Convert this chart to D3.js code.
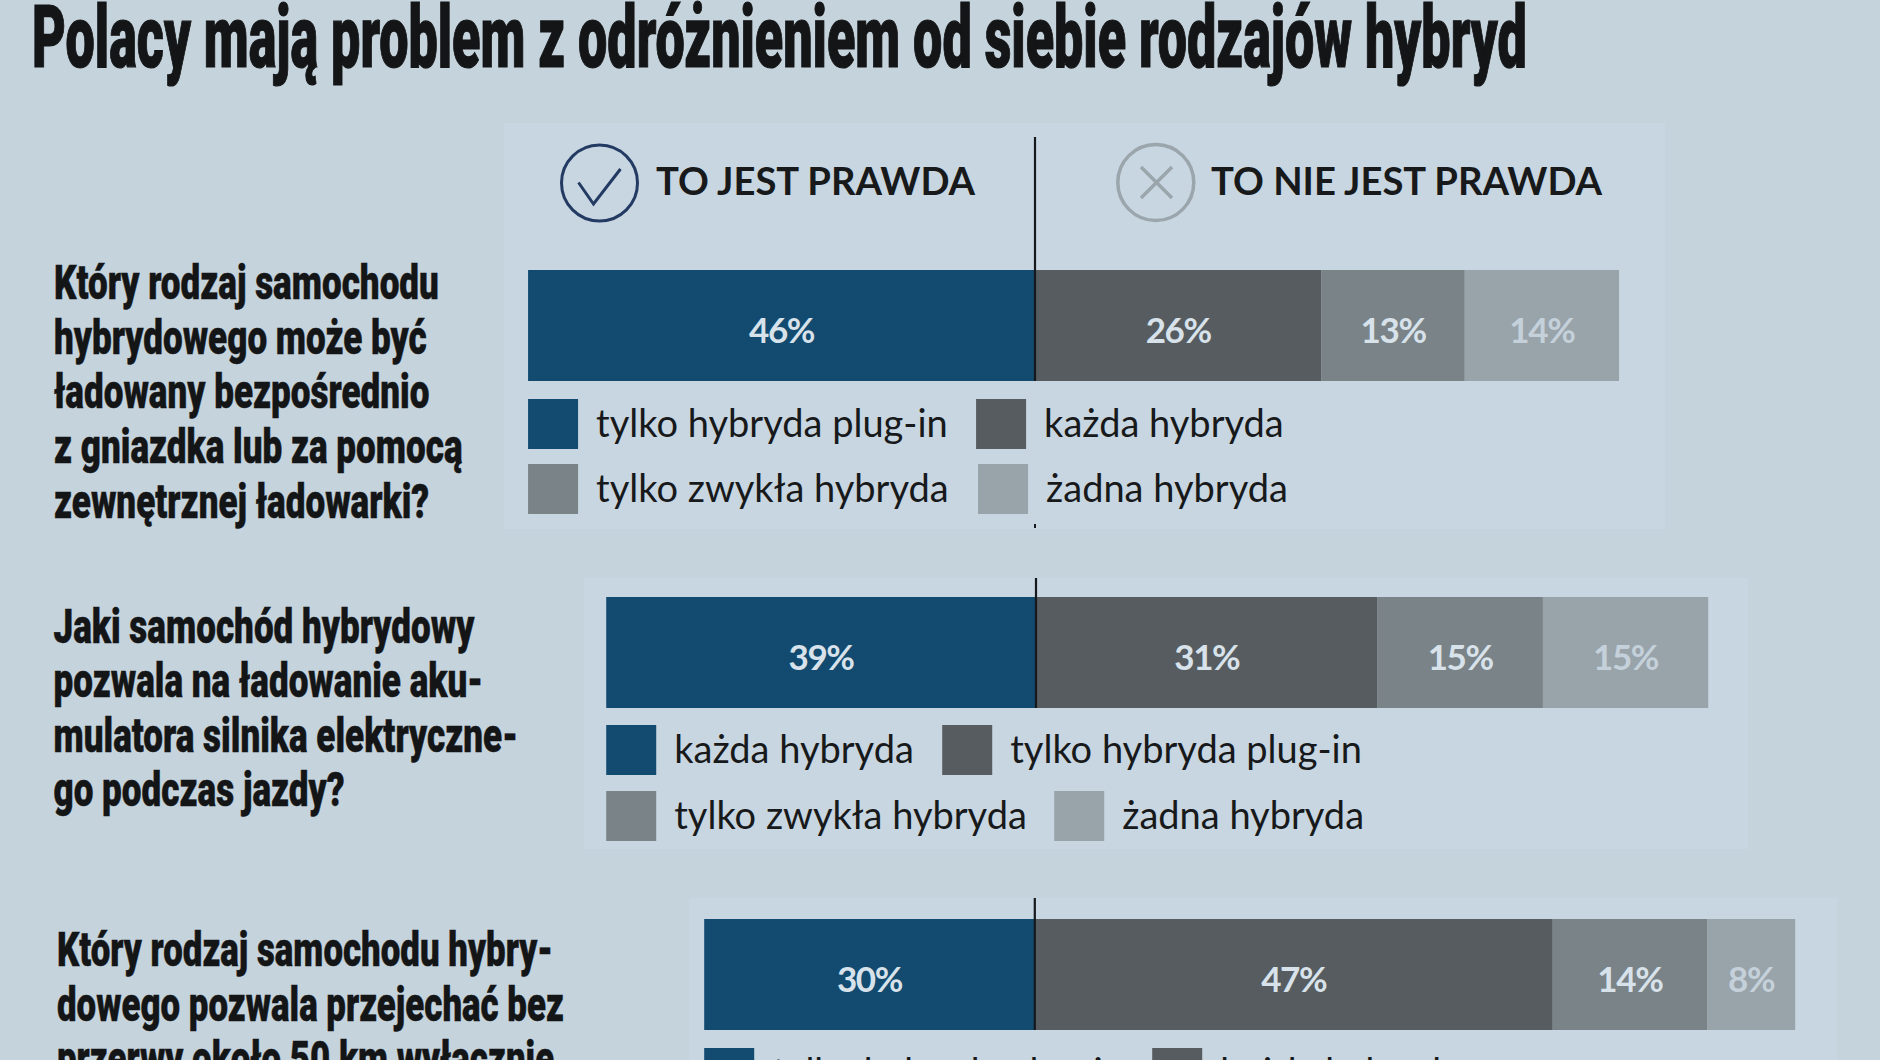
<!DOCTYPE html>
<html lang="pl">
<head>
<meta charset="utf-8">
<script src="https://cdn.jsdelivr.net/npm/d3@7"></script>
<style>
html, body { margin: 0; padding: 0; background: #c5d3dd; overflow: hidden; }
svg { display: block; }
.head { font-family: Roboto, "Liberation Sans", Arial, sans-serif; font-weight: 900; fill: #141516; stroke: #141516; }
.label { font-family: Lato, sans-serif; }
</style>
</head>
<body>
<svg id="chart" width="1880" height="1060"></svg>
<script>
// Survey answers, one row per question; shares in percent, correct answer first.
const titleText = "Polacy mają problem z odróżnieniem od siebie rodzajów hybryd";
const headerTrue = "TO JEST PRAWDA";
const headerFalse = "TO NIE JEST PRAWDA";

const question1 = ["Który rodzaj samochodu", "hybrydowego może być", "ładowany bezpośrednio", "z gniazdka lub za pomocą", "zewnętrznej ładowarki?"];
const question2 = ["Jaki samochód hybrydowy", "pozwala na ładowanie aku-", "mulatora silnika elektryczne-", "go podczas jazdy?"];
const question3 = ["Który rodzaj samochodu hybry-", "dowego pozwala przejechać bez", "przerwy około 50 km wyłącznie"];

const values1 = [46, 26, 13, 14];
const values2 = [39, 31, 15, 15];
const values3 = [30, 47, 14, 8];

const answers1 = ["tylko hybryda plug-in", "każda hybryda", "tylko zwykła hybryda", "żadna hybryda"];
const answers2 = ["każda hybryda", "tylko hybryda plug-in", "tylko zwykła hybryda", "żadna hybryda"];
const answers3 = ["tylko hybryda plug-in", "każda hybryda", "tylko zwykła hybryda", "żadna hybryda"];

const segmentColors = ["#124a70", "#565c5f", "#7a8387", "#99a3aa"];

const svg = d3.select("#chart");
svg.append("rect").attr("width", 1880).attr("height", 1060).attr("fill", "#c5d3dd");

// Layout of each question block; zero is where the true/false divider sits.
const rows = [
  { lines: question1, values: values1, answers: answers1, textX: 54, textY: 299, leading: 54.7, firstLineW: 385,
    panel: [504, 123, 1665, 529], lineTop: 137, zero: 1035, barTop: 270, barH: 111,
    swatchX: [[0, 448], [0, 450]], swatchY: [399, 464] },
  { lines: question2, values: values2, answers: answers2, textX: 53.5, textY: 643, leading: 54.4, firstLineW: 421,
    panel: [584, 578, 1748, 849], lineTop: 578, zero: 1036, barTop: 597, barH: 111,
    swatchX: [[0, 336], [0, 448]], swatchY: [725, 791] },
  { lines: question3, values: values3, answers: answers3, textX: 57, textY: 966, leading: 54.7, firstLineW: 496,
    panel: [689, 898, 1837, 1060], lineTop: 898, zero: 1034.8, barTop: 919, barH: 111,
    swatchX: [[0, 448], [0, 450]], swatchY: [1048, 1114] }
];

// Condensed heavy headline face: a black sans squeezed horizontally to a measured width.
function condensedBlock(lines, px, py, leading, size, firstWidth, strokeW) {
  const nodes = lines.map((line, i) => svg.append("text").attr("class", "head")
    .attr("font-size", size).attr("stroke-width", strokeW).text(line)
    .attr("data-y", py + i * leading));
  const sx = firstWidth / nodes[0].node().getComputedTextLength();
  nodes.forEach(n => n.attr("transform", `translate(${px},${n.attr("data-y")}) scale(${sx},1)`));
}
condensedBlock([titleText], 32, 67, 0, 87, 1495, 1.2);

rows.forEach(row => {
  const [px0, py0, px1, py1] = row.panel;
  svg.append("rect").attr("x", px0).attr("y", py0)
    .attr("width", px1 - px0).attr("height", py1 - py0).attr("fill", "#c8d6e1");

  condensedBlock(row.lines, row.textX, row.textY, row.leading, 49, row.firstLineW, 0.5);

  const x = d3.scaleLinear().domain([0, 100]).range([row.zero, row.zero + 1102]);

  // Cumulative start of each segment, beginning left of zero by the first share.
  const starts = [0, ...d3.cumsum(row.values)].slice(0, row.values.length).map(c => c - row.values[0]);
  const g = svg.append("g");
  g.selectAll("rect").data(row.values).join("rect")
    .attr("x", (d, i) => x(starts[i]))
    .attr("y", row.barTop)
    .attr("width", (d, i) => x(starts[i] + d) - x(starts[i]))
    .attr("height", row.barH)
    .attr("fill", (d, i) => segmentColors[i]);
  g.selectAll("text").data(row.values).join("text")
    .attr("class", "label")
    .attr("x", (d, i) => x(starts[i] + d / 2))
    .attr("y", row.barTop + 73)
    .attr("text-anchor", "middle")
    .attr("font-size", 35).attr("font-weight", 700).attr("letter-spacing", -1.4)
    .attr("fill", (d, i) => i === 3 ? "#c5d1da" : "#d8e2ea")
    .text(d => d + "%");

  // Divider between true and false answers.
  svg.append("line").attr("x1", x(0)).attr("x2", x(0))
    .attr("y1", row.lineTop).attr("y2", row.barTop + row.barH)
    .attr("stroke", "#15181c").attr("stroke-width", 2.2);

  // Legend: two rows of two swatches.
  const left = x(-row.values[0]);
  row.answers.forEach((a, i) => {
    const r = i < 2 ? 0 : 1, c = i % 2;
    const sx = left + row.swatchX[r][c], sy = row.swatchY[r];
    svg.append("rect").attr("x", sx).attr("y", sy).attr("width", 50).attr("height", 50)
      .attr("fill", segmentColors[i]);
    svg.append("text").attr("class", "label").attr("x", sx + 68).attr("y", sy + 38)
      .attr("font-size", 38).attr("fill", "#17191b").text(a);
  });
});

// Small tick left under the first divider.
svg.append("rect").attr("x", rows[0].zero - 1).attr("y", 524).attr("width", 2).attr("height", 4).attr("fill", "#15181c");

// Column headers with their round icons.
svg.append("circle").attr("cx", 599.5).attr("cy", 183).attr("r", 38)
  .attr("fill", "none").attr("stroke", "#233a63").attr("stroke-width", 3);
svg.append("path").attr("d", d3.line()([[578.5, 182.5], [593.5, 204], [620.5, 169]]))
  .attr("fill", "none").attr("stroke", "#233a63").attr("stroke-width", 3);
svg.append("circle").attr("cx", 1155.8).attr("cy", 182.5).attr("r", 38)
  .attr("fill", "none").attr("stroke", "#9aa5ac").attr("stroke-width", 3.5);
svg.append("path").attr("d", "M1141,167L1172,198M1172,167L1141,198")
  .attr("fill", "none").attr("stroke", "#9aa5ac").attr("stroke-width", 3.5);
svg.append("text").attr("class", "label").attr("x", 656).attr("y", 195)
  .attr("font-size", 38.2).attr("font-weight", 700).attr("fill", "#17191b").text(headerTrue);
svg.append("text").attr("class", "label").attr("x", 1211).attr("y", 195)
  .attr("font-size", 38.2).attr("font-weight", 700).attr("fill", "#17191b").text(headerFalse);
</script>
</body>
</html>
